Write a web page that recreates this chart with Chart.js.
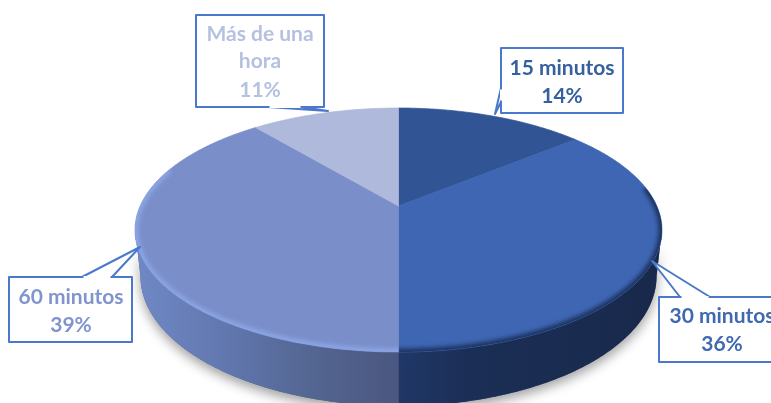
<!DOCTYPE html>
<html lang="es">
<head>
<meta charset="utf-8">
<title>Tiempo</title>
<script src="https://cdn.jsdelivr.net/npm/chart.js@4"></script>
<style>
  html, body { margin: 0; padding: 0; background: #fff; }
  canvas { display: block; }
</style>
</head>
<body>
<canvas id="pie" width="771" height="403"></canvas>
<script>
// Series
const categories = ['15 minutos', '30 minutos', '60 minutos', 'Más de una hora'];
const labelLines = [['15 minutos'], ['30 minutos'], ['60 minutos'], ['Más de una', 'hora']];
const shares = [14, 36, 39, 11];

// Slice styling
const sliceColors = ['#315594', '#3e66b2', '#7a8fc9', '#aeb9db'];
const textColors = ['#37609f', '#4069b2', '#8095cf', '#b6c1e1'];
const rimStyles = [
  null,
  { color: '#1c3260', from: 82, to: 180 },
  { color: '#8ca5e6', from: 180, to: 288 },
  null
];
const wallStops = [
  null,
  [[398, '#203868'], [470, '#1b2e55'], [660, '#18294b']],
  [[135, '#7089c6'], [230, '#6076ad'], [320, '#52648f'], [398, '#4a5780']],
  null
];

// Label boxes: box rectangle, pointer (base on the box edge, tip on the pie), text centre and baselines
const callouts = [
  { box: [501, 48, 122, 65], base: [[501, 88], [501, 102]], tip: [495, 114], cx: 562, ys: [75, 103] },
  { box: [659, 297, 130, 65], base: [[680, 297], [710, 297]], tip: [652, 261], cx: 722, ys: [323, 351] },
  { box: [9, 277, 123, 65], base: [[82, 277], [112, 277]], tip: [140, 247], cx: 71, ys: [304, 332] },
  { box: [196, 15, 128, 92], base: [[268, 107], [302, 107]], tip: [328, 111], cx: 260, ys: [41, 68, 97] }
];

// Perspective view of the round pie: top face and lower rim
const topDisc = { cx: 398.5, cy: 206, rx: 258.3, ry: 117.3, k: 0.197 };
const baseDisc = { cx: 398.5, cy: 250.4, rx: 253, ry: 125, k: 0.197 };
const project = (d, t) => {
  const w = 1 + d.k * Math.cos(t);
  return [d.cx + d.rx * Math.sin(t) / w, d.cy - d.ry * Math.cos(t) / w];
};
const traceArc = (ctx, d, from, to) => {
  const steps = Math.max(2, Math.ceil(Math.abs(to - from) / 0.01));
  for (let i = 0; i <= steps; i++) {
    const p = project(d, from + (to - from) * i / steps);
    ctx.lineTo(p[0], p[1]);
  }
};
// Angles on the rim between which the wall is visible
const wallFrom = Math.acos(-topDisc.k);
const wallTo = 2 * Math.PI - wallFrom;
const rad = deg => deg * Math.PI / 180;

const perspectivePie = {
  id: 'perspectivePie',
  beforeDatasetDraw(chart, args) {
    const { ctx } = chart;
    const arcs = chart.getDatasetMeta(args.index).data;
    const theta = a => a + Math.PI / 2;

    // Soft drop shadow below the wall
    ctx.save();
    ctx.shadowColor = 'rgba(0,0,0,0.38)';
    ctx.shadowBlur = 12;
    ctx.shadowOffsetY = 5;
    ctx.fillStyle = '#4a5780';
    ctx.beginPath();
    traceArc(ctx, topDisc, wallFrom, wallTo);
    traceArc(ctx, baseDisc, wallTo, wallFrom);
    ctx.closePath();
    ctx.fill();
    ctx.restore();

    // Side wall of each slice facing the viewer
    arcs.forEach((el, i) => {
      const a = Math.max(theta(el.startAngle), wallFrom);
      const b = Math.min(theta(el.endAngle), wallTo);
      if (a >= b || !wallStops[i]) return;
      const g = ctx.createLinearGradient(135, 0, 662, 0);
      wallStops[i].forEach(([x, c]) => g.addColorStop((x - 135) / 527, c));
      ctx.fillStyle = g;
      ctx.beginPath();
      traceArc(ctx, topDisc, a, b);
      traceArc(ctx, baseDisc, b, a);
      ctx.closePath();
      ctx.fill();
    });

    // Top face of each slice with its bevelled rim
    arcs.forEach((el, i) => {
      const a = theta(el.startAngle);
      const b = theta(el.endAngle);
      ctx.save();
      ctx.beginPath();
      ctx.moveTo(topDisc.cx, topDisc.cy);
      traceArc(ctx, topDisc, a, b);
      ctx.closePath();
      ctx.fillStyle = el.options.backgroundColor;
      ctx.strokeStyle = el.options.backgroundColor;
      ctx.lineWidth = 0.7;
      ctx.stroke();
      ctx.fill();
      const rim = rimStyles[i];
      if (rim) {
        ctx.clip();
        ctx.filter = 'blur(2px)';
        ctx.strokeStyle = rim.color;
        ctx.lineWidth = 7;
        ctx.lineCap = 'round';
        ctx.beginPath();
        traceArc(ctx, topDisc, rad(rim.from), rad(rim.to));
        ctx.stroke();
      }
      ctx.restore();
    });
    return false;
  },
  afterDraw(chart) {
    const { ctx } = chart;
    const values = chart.data.datasets[0].data;
    callouts.forEach((c, i) => {
      const [x, y, w, h] = c.box;
      const onSide = c.base[0][0] === c.base[1][0];
      ctx.save();
      ctx.beginPath();
      ctx.moveTo(c.base[0][0], c.base[0][1]);
      ctx.lineTo(c.tip[0], c.tip[1]);
      ctx.lineTo(c.base[1][0], c.base[1][1]);
      ctx.closePath();
      ctx.fillStyle = '#fff';
      ctx.strokeStyle = '#4a78cc';
      ctx.lineWidth = 2;
      ctx.lineJoin = 'round';
      ctx.fill();
      ctx.stroke();
      ctx.fillRect(x, y, w, h);
      ctx.strokeRect(x, y, w, h);
      // Open the box edge where the pointer joins it
      ctx.beginPath();
      ctx.moveTo(c.base[0][0] + (onSide ? 0 : 1.5), c.base[0][1] + (onSide ? 1.5 : 0));
      ctx.lineTo(c.base[1][0] - (onSide ? 0 : 1.5), c.base[1][1] - (onSide ? 1.5 : 0));
      ctx.strokeStyle = '#fff';
      ctx.stroke();
      ctx.fillStyle = textColors[i];
      ctx.font = 'bold 21px Lato, "Open Sans", sans-serif';
      ctx.textAlign = 'center';
      ctx.textBaseline = 'alphabetic';
      [...labelLines[i], values[i] + '%'].forEach((t, n) => ctx.fillText(t, c.cx, c.ys[n]));
      ctx.restore();
    });
  }
};

new Chart(document.getElementById('pie'), {
  type: 'pie',
  data: {
    labels: categories,
    datasets: [{ data: shares, backgroundColor: sliceColors, borderWidth: 0 }]
  },
  options: {
    responsive: false,
    animation: false,
    rotation: 0,
    plugins: { legend: { display: false }, tooltip: { enabled: false } }
  },
  plugins: [perspectivePie]
});
</script>
</body>
</html>
